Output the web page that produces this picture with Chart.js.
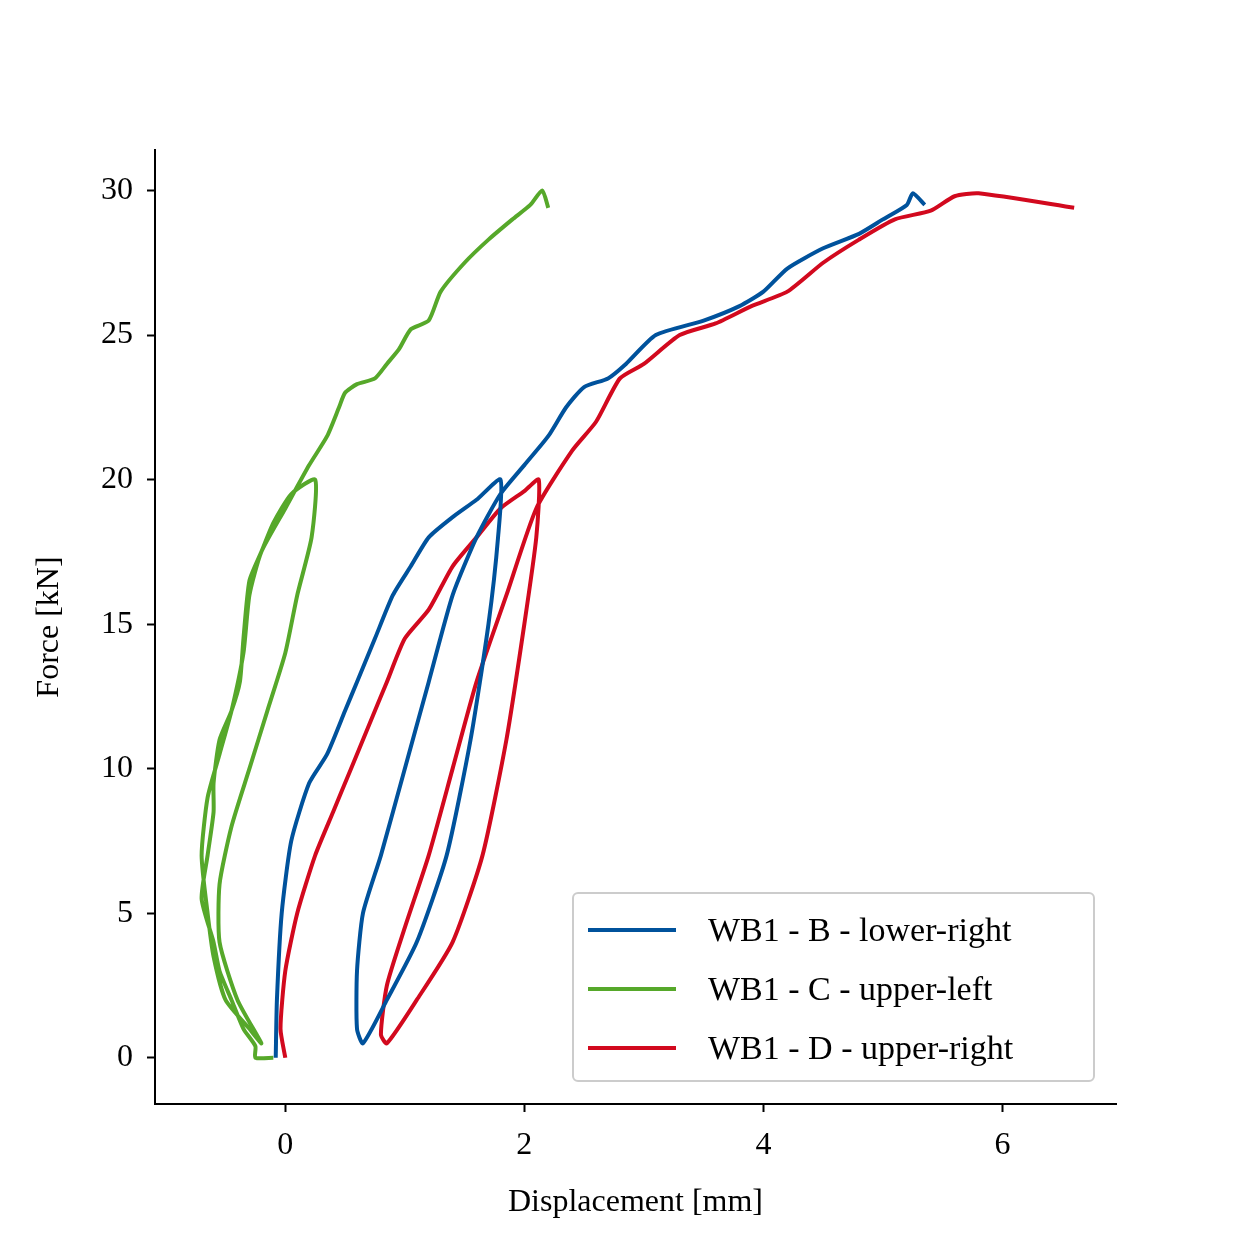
<!DOCTYPE html>
<html><head><meta charset="utf-8">
<script src="https://cdn.jsdelivr.net/npm/chart.js@4"></script>
<style>
body{margin:0;background:#fff;}
#wrap{position:relative;width:1240px;height:1240px;}
#legend{position:absolute;left:572px;top:892px;width:523px;height:190px;border:2px solid #ccc;border-radius:6px;background:rgba(255,255,255,0.8);font-family:"Liberation Serif";font-size:34px;box-sizing:border-box;padding-top:6px;}
.row{display:flex;align-items:center;height:59px;}
.sw{width:88px;height:4px;margin-left:14px;margin-right:32px;}
</style></head><body>
<div id="wrap"><canvas id="c" width="1240" height="1240"></canvas>
<div id="legend"></div></div>
<script>
const names = ["WB1 - B - lower-right", "WB1 - C - upper-left", "WB1 - D - upper-right"];
const colors = ["#00529c", "#56a82a", "#d2091e"];
const xTicks = [0, 2, 4, 6];
const yTicks = [0, 5, 10, 15, 20, 25, 30];

const seriesB = [[-0.08,0],[-0.07,2],[-0.03,5],[0.05,7.5],[0.2,9.5],[0.35,10.5],[0.5,12],[0.6,13],[0.75,14.5],[0.9,16],[1.05,17],[1.2,18],[1.4,18.7],[1.6,19.3],[1.8,20],[1.78,18],[1.7,15],[1.55,11],[1.35,7],[1.1,4],[0.85,2],[0.65,0.5],[0.6,1],[0.6,3],[0.65,5],[0.8,7],[1.0,10],[1.2,13],[1.4,16],[1.6,18],[1.8,19.5],[2.0,20.5],[2.2,21.5],[2.35,22.5],[2.5,23.2],[2.7,23.5],[2.85,24],[3.1,25],[3.5,25.5],[3.8,26],[4.0,26.5],[4.2,27.3],[4.5,28],[4.8,28.5],[5.0,29],[5.2,29.5],[5.25,29.9],[5.35,29.5]];
const seriesC = [[-0.1,0],[-0.25,0],[-0.25,0.4],[-0.35,1],[-0.45,2],[-0.55,3],[-0.6,4],[-0.7,5.5],[-0.65,7],[-0.6,8.5],[-0.6,9.5],[-0.55,11],[-0.45,12],[-0.38,13],[-0.35,14.5],[-0.3,16.5],[-0.2,17.5],[-0.1,18.5],[0.05,19.5],[0.25,20],[0.22,18],[0.1,16],[0,14],[-0.15,12],[-0.3,10],[-0.45,8],[-0.55,6],[-0.55,4],[-0.4,2],[-0.2,0.5],[-0.3,1],[-0.5,2],[-0.6,3.5],[-0.65,5],[-0.7,7],[-0.65,9],[-0.55,10.5],[-0.45,12],[-0.35,14],[-0.3,16],[-0.2,17.5],[0,19],[0.2,20.5],[0.35,21.5],[0.45,22.5],[0.5,23],[0.6,23.3],[0.75,23.5],[0.85,24],[0.95,24.5],[1.05,25.2],[1.2,25.5],[1.3,26.5],[1.5,27.5],[1.7,28.3],[1.9,29],[2.05,29.5],[2.15,30],[2.2,29.4]];
const seriesD = [[0,0],[-0.04,1],[0,3],[0.1,5],[0.25,7],[0.4,8.5],[0.55,10],[0.7,11.5],[0.85,13],[1.0,14.5],[1.2,15.5],[1.4,17],[1.6,18],[1.8,19],[2.0,19.6],[2.12,20],[2.1,18],[2.0,15],[1.85,11],[1.65,7],[1.4,4],[1.1,2],[0.85,0.5],[0.8,0.8],[0.85,2.5],[1.0,4.5],[1.2,7],[1.4,10],[1.6,13],[1.85,16],[2.1,19],[2.4,21],[2.6,22],[2.8,23.5],[3.0,24],[3.3,25],[3.6,25.4],[3.9,26],[4.2,26.5],[4.5,27.5],[4.8,28.3],[5.1,29],[5.4,29.3],[5.6,29.8],[5.8,29.9],[6.6,29.4]];
const allSeries = [seriesB, seriesC, seriesD];

const legend = document.getElementById('legend');
names.forEach((n, i) => {
    legend.innerHTML += `<div class="row"><div class="sw" style="background:${colors[i]}"></div>${n}</div>`;
});

const font = {family: "Liberation Serif", size: 32};
new Chart(document.getElementById('c'), {
    type: "scatter",
    data: {
        datasets: allSeries.map((s, i) => ({
            label: names[i],
            data: s.map(p => ({x: p[0], y: p[1]})),
            showLine: true, borderColor: colors[i], borderWidth: 4,
            pointRadius: 0, tension: 0.2
        }))
    },
    options: {
        responsive: false, animation: false,
        layout: {padding: {top: 150, right: 124, left: 26, bottom: 14}},
        plugins: {legend: {display: false}, tooltip: {enabled: false}},
        scales: {
            x: {
                min: -1.09, max: 6.95,
                afterBuildTicks: s => { s.ticks = xTicks.map(v => ({value: v})); },
                afterFit: s => { s.height = 122; },
                grid: {drawOnChartArea: false, color: "#000", tickLength: 8, tickWidth: 2},
                border: {color: "#000", width: 2},
                ticks: {font, color: "#000", maxRotation: 0, padding: 14},
                title: {display: true, text: "Displacement [mm]", font, color: "#000"}
            },
            y: {
                min: -1.6, max: 31.4,
                afterBuildTicks: s => { s.ticks = yTicks.map(v => ({value: v})); },
                afterFit: s => { s.width = 129; },
                grid: {drawOnChartArea: false, color: "#000", tickLength: 8, tickWidth: 2},
                border: {color: "#000", width: 2},
                ticks: {font, color: "#000", padding: 14},
                title: {display: true, text: "Force [kN]", font, color: "#000"}
            }
        }
    }
});
</script></body></html>
